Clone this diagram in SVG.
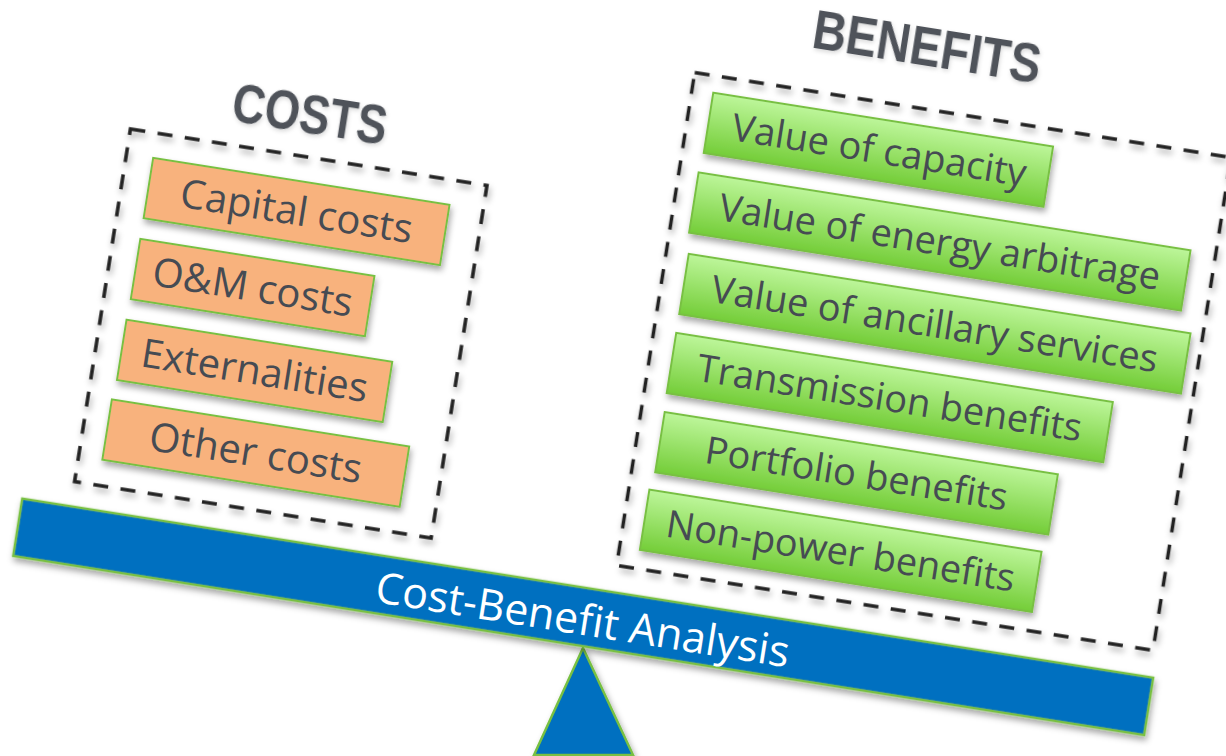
<svg xmlns="http://www.w3.org/2000/svg" width="1226" height="756" viewBox="0 0 1226 756">
  <defs>
    <filter id="shadow" x="-10%" y="-20%" width="120%" height="150%">
      <feDropShadow dx="2" dy="4" stdDeviation="3" flood-color="#000" flood-opacity="0.35"/>
    </filter>
    <filter id="softShadow" x="-10%" y="-30%" width="120%" height="160%">
      <feDropShadow dx="1" dy="2" stdDeviation="2" flood-color="#000" flood-opacity="0.15"/>
    </filter>
    <linearGradient id="greenFill" x1="0" y1="0" x2="0" y2="1">
      <stop offset="0" stop-color="#BDF69A"/>
      <stop offset="1" stop-color="#74CD38"/>
    </linearGradient>
    <style>
      .frame { fill: none; stroke: #222; stroke-width: 3.5; stroke-dasharray: 15 12.5; filter: url(#shadow); }
      .cost { fill: #F8B27D; stroke: #78C043; stroke-width: 2; filter: url(#shadow); }
      .benefit { fill: url(#greenFill); stroke: #78C043; stroke-width: 2; filter: url(#shadow); }
      .label { font-family: "Open Sans", "Noto Sans", sans-serif; fill: #464B53; text-anchor: middle; }
      .cost-label { font-size: 40px; }
      .benefit-label { font-size: 38px; }
      .heading { font-family: "Liberation Sans", Arial, sans-serif; font-weight: bold; font-size: 55px; fill: #4F535A; filter: url(#softShadow); }
      .beam { fill: #0070C0; stroke: #78C043; stroke-width: 2.5; filter: url(#shadow); }
      .beam-label { font-family: "Open Sans", "Noto Sans", sans-serif; font-size: 43px; fill: #FFFFFF; text-anchor: middle; }
    </style>
  </defs>

  <!-- fulcrum (stays level) -->
  <g id="fulcrum">
    <polygon points="583,648 534,755 633,755" fill="#0070C0" stroke="#78C043" stroke-width="2.5" filter="url(#shadow)"/>
  </g>

  <!-- the whole scale tips by 9 degrees -->
  <g transform="rotate(9)">
    <g id="costs-group">
      <rect class="frame" x="149" y="107" width="361" height="357"/>
      <text class="heading" x="246" y="83" textLength="156" lengthAdjust="spacingAndGlyphs">COSTS</text>
    </g>
    <g id="cost-capital">
      <rect class="cost" x="176" y="132" width="300" height="61"/>
      <text class="label cost-label" x="326" y="176">Capital costs</text>
    </g>
    <g id="cost-om">
      <rect class="cost" x="176" y="214" width="237" height="61"/>
      <text class="label cost-label" x="294.5" y="258">O&amp;M costs</text>
    </g>
    <g id="cost-externalities">
      <rect class="cost" x="175" y="296" width="269" height="61"/>
      <text class="label cost-label" x="309.5" y="340">Externalities</text>
    </g>
    <g id="cost-other">
      <rect class="cost" x="173" y="377" width="301" height="61"/>
      <text class="label cost-label" x="323.5" y="421">Other costs</text>
    </g>

    <g id="benefits-group">
      <rect class="frame" x="697.5" y="-37" width="543" height="499"/>
      <text class="heading" x="808" y="-80" textLength="230" lengthAdjust="spacingAndGlyphs">BENEFITS</text>
    </g>
    <g id="benefit-capacity">
      <rect class="benefit" x="719" y="-20" width="344" height="61"/>
      <text class="label benefit-label" x="892" y="24">Value of capacity</text>
    </g>
    <g id="benefit-arbitrage">
      <rect class="benefit" x="717" y="61" width="498" height="61"/>
      <text class="label benefit-label" x="966" y="105">Value of energy arbitrage</text>
    </g>
    <g id="benefit-ancillary">
      <rect class="benefit" x="720" y="143" width="508" height="61"/>
      <text class="label benefit-label" x="974" y="187">Value of ancillary services</text>
    </g>
    <g id="benefit-transmission">
      <rect class="benefit" x="720" y="223" width="442" height="61"/>
      <text class="label benefit-label" x="941" y="267">Transmission benefits</text>
    </g>
    <g id="benefit-portfolio">
      <rect class="benefit" x="721" y="303" width="398" height="61"/>
      <text class="label benefit-label" x="920" y="347">Portfolio benefits</text>
    </g>
    <g id="benefit-nonpower">
      <rect class="benefit" x="718" y="382" width="397" height="61"/>
      <text class="label benefit-label" x="916.5" y="426">Non-power benefits</text>
    </g>

    <g id="beam">
      <rect class="beam" x="100" y="489" width="1145" height="58"/>
      <text class="beam-label" x="672.5" y="536">Cost-Benefit Analysis</text>
    </g>
  </g>
</svg>
